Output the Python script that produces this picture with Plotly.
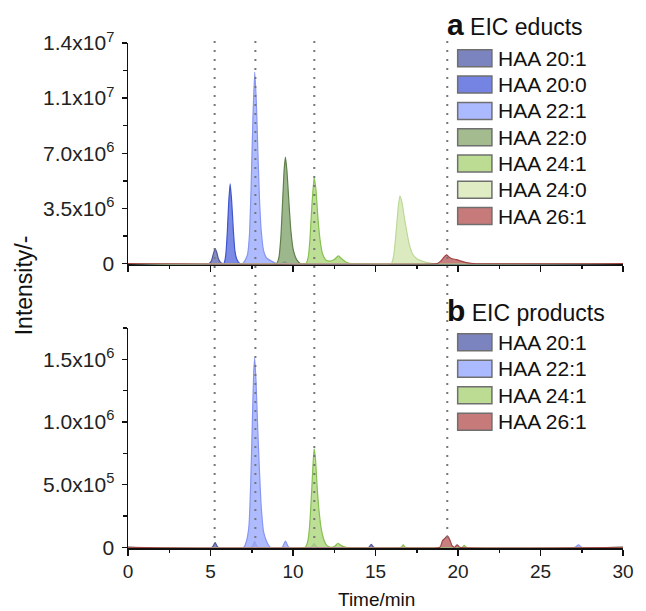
import plotly.graph_objects as go

# ---------------- data ----------------
TIME_MAX = 30
X_TICKS = [0, 5, 10, 15, 20, 25, 30]
X_MINOR = [2.5, 7.5, 12.5, 17.5, 22.5, 27.5]

TOP_TICKVALS = [0, 3.5e6, 7.0e6, 1.05e7, 1.4e7]
TOP_TICKTEXT = ["0", "3.5x10<sup>6</sup>", "7.0x10<sup>6</sup>", "1.1x10<sup>7</sup>", "1.4x10<sup>7</sup>"]
TOP_MINOR = [1.75e6, 5.25e6, 8.75e6, 1.225e7]
BOT_TICKVALS = [0, 5.0e5, 1.0e6, 1.5e6]
BOT_TICKTEXT = ["0", "5.0x10<sup>5</sup>", "1.0x10<sup>6</sup>", "1.5x10<sup>6</sup>"]
BOT_MINOR = [2.5e5, 7.5e5, 1.25e6, 1.75e6]

MARKER_TIMES = [5.25, 7.72, 11.29, 19.35]

# --- panel a: EIC educts ---
A_NAMES = ["HAA 20:1", "HAA 20:0", "HAA 22:1", "HAA 22:0", "HAA 24:1", "HAA 24:0", "HAA 26:1"]

A_T_201 = [0, 4.92, 5.05, 5.17, 5.28, 5.38, 5.48, 5.58, 5.72, 9.3, 9.5, 9.7, 30]
A_I_201 = [0, 0, 1.5e5, 6.0e5, 9.5e5, 7.0e5, 3.0e5, 1.0e5, 0, 0, 1.2e5, 0, 0]

A_T_200 = [0, 5.8, 5.92, 6.02, 6.1, 6.19, 6.28, 6.38, 6.48, 6.6, 6.78, 30]
A_I_200 = [0, 0, 5.0e5, 2.0e6, 3.8e6, 5.05e6, 4.0e6, 2.2e6, 8.0e5, 2.5e5, 0, 0]

A_T_221 = [0, 6.95, 7.1, 7.25, 7.36, 7.46, 7.57, 7.68, 7.78, 7.88, 7.98, 8.08, 8.22, 8.4, 8.7, 9.0, 30]
A_I_221 = [0, 0, 2.0e5, 6.0e5, 1.8e6, 4.8e6, 9.2e6, 1.215e7, 1.02e7, 6.8e6, 3.8e6, 2.0e6, 8.0e5, 3.5e5, 1.5e5, 0, 0]

A_T_220 = [0, 9.0, 9.14, 9.26, 9.36, 9.46, 9.54, 9.63, 9.74, 9.87, 10.02, 10.22, 10.45, 30]
A_I_220 = [0, 0, 3.5e5, 1.6e6, 3.7e6, 5.9e6, 6.75e6, 5.9e6, 4.1e6, 2.1e6, 8.5e5, 2.5e5, 0, 0]

A_T_241 = [0, 10.78, 10.93, 11.03, 11.14, 11.28, 11.39, 11.51, 11.64, 11.78, 11.97, 12.2, 12.5, 12.75, 12.95, 13.2, 13.5, 30]
A_I_241 = [0, 0, 4.5e5, 1.6e6, 3.6e6, 5.45e6, 4.7e6, 2.9e6, 1.5e6, 6.5e5, 2.5e5, 1.5e5, 2.5e5, 4.8e5, 3.0e5, 1.0e5, 0, 0]

A_T_240 = [0, 15.95, 16.1, 16.25, 16.38, 16.48, 16.6, 16.75, 16.9, 17.05, 17.25, 17.5, 17.9, 18.5, 30]
A_I_240 = [0, 0, 5.0e5, 2.0e6, 3.6e6, 4.3e6, 3.9e6, 2.9e6, 2.0e6, 1.2e6, 6.0e5, 3.0e5, 1.2e5, 0, 0]

A_T_261 = [0, 18.75, 18.95, 19.15, 19.3, 19.45, 19.65, 19.9, 20.2, 20.5, 20.9, 30]
A_I_261 = [0, 0, 1.5e5, 4.0e5, 5.5e5, 4.2e5, 3.0e5, 2.5e5, 1.5e5, 6.0e4, 0, 0]

# --- panel b: EIC products ---
B_NAMES = ["HAA 20:1", "HAA 22:1", "HAA 24:1", "HAA 26:1"]

B_T_201 = [0, 5.1, 5.28, 5.45, 7.5, 7.68, 7.85, 11.1, 11.28, 11.45, 14.6, 14.74, 14.9, 30]
B_I_201 = [0, 0, 3.7e4, 0, 0, 4.5e4, 0, 0, 3.0e4, 0, 0, 2.4e4, 0, 0]

B_T_221 = [0, 7.02, 7.18, 7.33, 7.44, 7.54, 7.62, 7.68, 7.76, 7.87, 7.98, 8.08, 8.22, 8.42, 8.62,
           9.35, 9.54, 9.75, 27.1, 27.3, 27.5, 30]
B_I_221 = [0, 0, 5.0e4, 1.7e5, 5.2e5, 1.02e6, 1.4e6, 1.51e6, 1.32e6, 9.2e5, 5.7e5, 3.1e5, 1.2e5, 4.0e4, 0,
           0, 5.0e4, 0, 0, 2.0e4, 0, 0]

B_T_241 = [0, 10.75, 10.9, 11.0, 11.1, 11.2, 11.28, 11.36, 11.46, 11.57, 11.72, 11.87, 12.05, 12.3,
           12.55, 12.72, 12.9, 13.2, 16.55, 16.68, 16.8, 20.25, 20.38, 20.5, 30]
B_I_241 = [0, 0, 5.0e4, 1.6e5, 3.7e5, 6.3e5, 7.85e5, 7.1e5, 4.9e5, 3.0e5, 1.4e5, 6.0e4, 1.5e4, 0,
           1.0e4, 3.2e4, 1.5e4, 0, 0, 2.0e4, 0, 0, 1.5e4, 0, 0]

B_T_261 = [0, 18.9, 19.05, 19.2, 19.35, 19.5, 19.65, 19.8, 19.95, 20.1, 30]
B_I_261 = [0, 0, 5.0e4, 7.0e4, 9.0e4, 6.0e4, 1.0e4, 0, 2.0e4, 0, 0]

# ---------------- styling ----------------
FILL = {
    "HAA 20:1": "rgba(112,120,186,0.85)",
    "HAA 20:0": "rgba(100,118,224,0.85)",
    "HAA 22:1": "rgba(160,176,255,0.85)",
    "HAA 22:0": "rgba(140,170,120,0.85)",
    "HAA 24:1": "rgba(176,216,130,0.85)",
    "HAA 24:0": "rgba(214,232,180,0.85)",
    "HAA 26:1": "rgba(190,104,104,0.85)",
}
LINE = {
    "HAA 20:1": "#4f5898",
    "HAA 20:0": "#3f55cc",
    "HAA 22:1": "#8796f2",
    "HAA 22:0": "#5f7f4d",
    "HAA 24:1": "#86c052",
    "HAA 24:0": "#bcd898",
    "HAA 26:1": "#a24444",
}
SWATCH = {
    "HAA 20:1": "#7c84c0",
    "HAA 20:0": "#7584e2",
    "HAA 22:1": "#abb9ff",
    "HAA 22:0": "#a4bb8f",
    "HAA 24:1": "#bcdc94",
    "HAA 24:0": "#dfecc4",
    "HAA 26:1": "#c77a7a",
}

FONT = "Liberation Sans, Arial, sans-serif"
W, H = 646, 611
ML, MR, MT, MB = 128, 12, 43, 63
PW = W - ML - MR
PH = H - MT - MB


def xp(px):  # page pixel -> paper x
    return (px - ML) / PW


def yp(py):  # page pixel -> paper y
    return (H - MB - py) / PH


fig = go.Figure()

a_series = [(A_T_201, A_I_201), (A_T_200, A_I_200), (A_T_221, A_I_221), (A_T_220, A_I_220),
            (A_T_241, A_I_241), (A_T_240, A_I_240), (A_T_261, A_I_261)]
b_series = [(B_T_201, B_I_201), (B_T_221, B_I_221), (B_T_241, B_I_241), (B_T_261, B_I_261)]

for name, (t, v) in zip(A_NAMES, a_series):
    fig.add_trace(go.Scatter(x=t, y=v, name=name, mode="lines", fill="tozeroy",
                             fillcolor=FILL[name], line=dict(color=LINE[name], width=1.2,
                                                             shape="spline", smoothing=0.5),
                             xaxis="x", yaxis="y", showlegend=False, hoverinfo="skip"))
for name, (t, v) in zip(B_NAMES, b_series):
    fig.add_trace(go.Scatter(x=t, y=v, name=name, mode="lines", fill="tozeroy",
                             fillcolor=FILL[name], line=dict(color=LINE[name], width=1.2,
                                                             shape="spline", smoothing=0.5),
                             xaxis="x2", yaxis="y2", showlegend=False, hoverinfo="skip"))

shapes = []
for t in MARKER_TIMES:
    shapes.append(dict(type="line", xref="x", yref="paper", x0=t, x1=t, y0=yp(538), y1=yp(40),
                       line=dict(color="#777777", width=2, dash="2px,7px"), layer="above"))

annotations = []


def add_legend(names, title_letter, title_text, title_py, first_py, step):
    annotations.append(dict(xref="paper", yref="paper", x=xp(452), y=yp(title_py),
                            xanchor="left", yanchor="middle", showarrow=False,
                            text="<b><span style='font-size:30px'>%s</span></b> %s" % (title_letter, title_text),
                            font=dict(family=FONT, size=23, color="#111111")))
    for i, n in enumerate(names):
        cy = first_py + i * step
        shapes.append(dict(type="rect", xref="paper", yref="paper",
                           x0=xp(465), x1=xp(500), y0=yp(cy + 8.5), y1=yp(cy - 8.5),
                           fillcolor=SWATCH[n], line=dict(color="#6f6f6f", width=1.5)))
        annotations.append(dict(xref="paper", yref="paper", x=xp(504), y=yp(cy),
                                xanchor="left", yanchor="middle", showarrow=False, text=n,
                                font=dict(family=FONT, size=21, color="#111111")))


add_legend(A_NAMES, "a", "EIC educts", 25, 58.3, 26.3)
add_legend(B_NAMES, "b", "EIC products", 310, 342.3, 26.5)

annotations.append(dict(xref="paper", yref="paper", x=xp(22), y=yp(285), xanchor="center",
                        yanchor="middle", showarrow=False, text="Intensity/-", textangle=-90,
                        font=dict(family=FONT, size=23, color="#111111")))
annotations.append(dict(xref="paper", yref="paper", x=xp(382), y=yp(599), xanchor="center",
                        yanchor="middle", showarrow=False, text="Time/min",
                        font=dict(family=FONT, size=19, color="#111111")))

xcommon = dict(range=[0, TIME_MAX], tickmode="array", tickvals=X_TICKS, ticks="outside",
               ticklen=6, tickwidth=1.5, tickcolor="#111111", showline=True, linecolor="#111111",
               linewidth=1.5, showgrid=False, zeroline=False, layer="below traces",
               minor=dict(tickmode="array", tickvals=X_MINOR, ticks="outside", ticklen=3.5,
                          tickwidth=1.5, tickcolor="#111111"))
ycommon = dict(ticks="outside", ticklen=5, tickwidth=1.5, tickcolor="#111111", showline=True,
               linecolor="#111111", linewidth=1.5, showgrid=False, zeroline=False,
               tickfont=dict(family=FONT, size=21, color="#222222"), tickmode="array",
               ticklabelstandoff=3)

fig.update_layout(
    width=W, height=H, margin=dict(l=ML, r=MR, t=MT, b=MB),
    paper_bgcolor="white", plot_bgcolor="white", showlegend=False,
    font=dict(family=FONT, color="#111111"), hovermode=False,
    xaxis=dict(**xcommon, anchor="y", showticklabels=False),
    xaxis2=dict(**xcommon, anchor="y2", matches="x", showticklabels=True,
                tickfont=dict(family=FONT, size=19, color="#222222")),
    yaxis=dict(**ycommon, domain=[yp(264.3), 1], range=[-5e4, 1.4e7], anchor="x",
               tickvals=TOP_TICKVALS, ticktext=TOP_TICKTEXT,
               minor=dict(tickmode="array", tickvals=TOP_MINOR, ticks="outside", ticklen=3.5,
                          tickwidth=1.5, tickcolor="#111111")),
    yaxis2=dict(**ycommon, domain=[0, yp(328)], range=[-6e3, 1.75e6], anchor="x2",
                tickvals=BOT_TICKVALS, ticktext=BOT_TICKTEXT,
                minor=dict(tickmode="array", tickvals=BOT_MINOR, ticks="outside", ticklen=3.5,
                           tickwidth=1.5, tickcolor="#111111")),
    shapes=shapes, annotations=annotations,
)

# remove the default page margin so the figure sits exactly in the 646x611 window
fig.write_html("out.html", config={"displayModeBar": False, "staticPlot": True},
               post_script="document.body.style.margin='0px';document.body.style.overflow='hidden';")
